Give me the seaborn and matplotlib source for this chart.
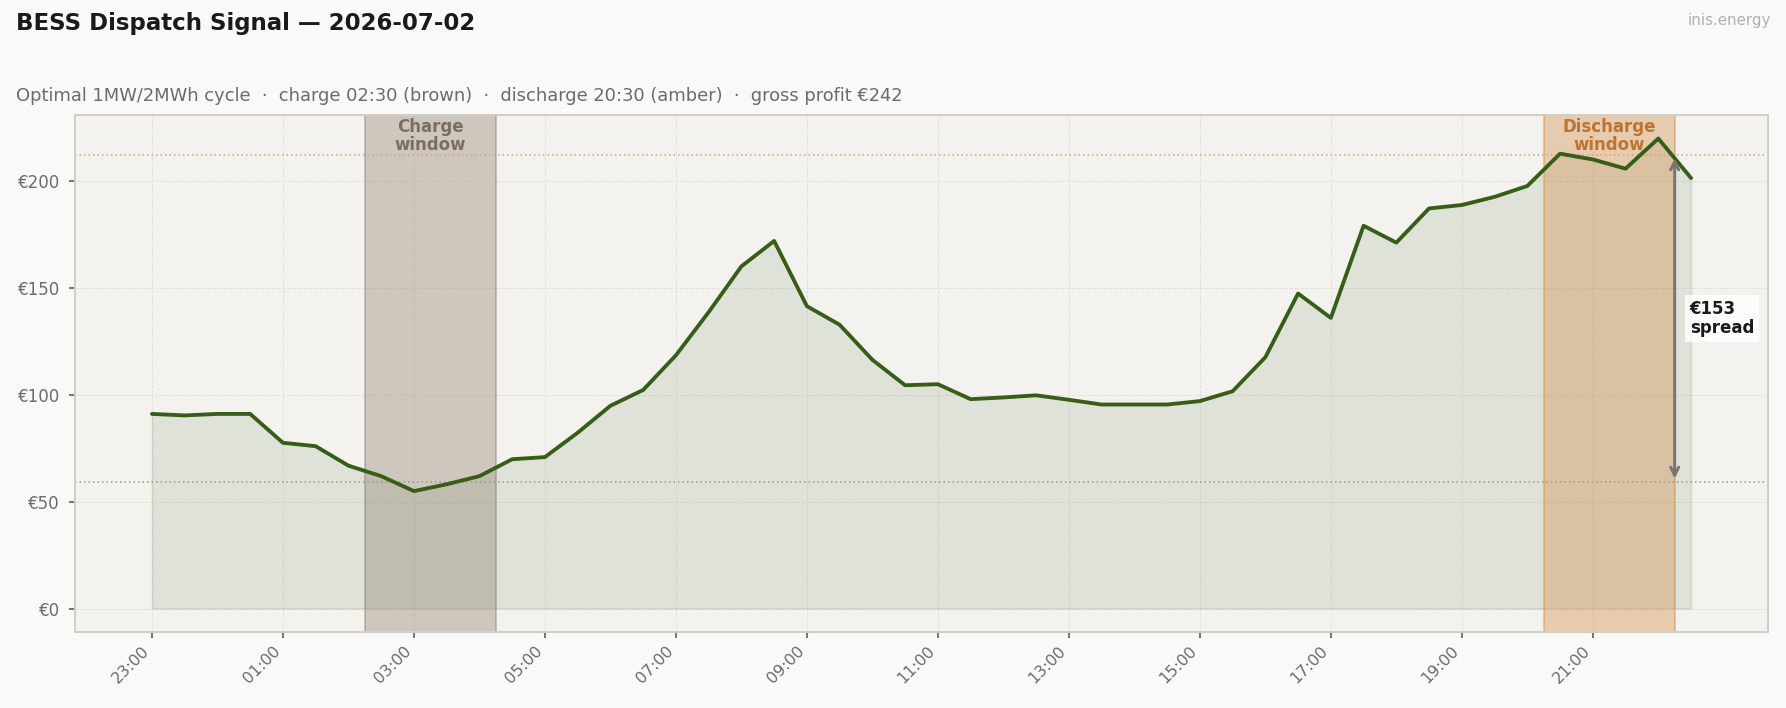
import numpy as np
import pandas as pd
import matplotlib
matplotlib.use("Agg")
import matplotlib.pyplot as plt
import seaborn as sns
from matplotlib.colors import to_rgba

# ---------------- data ----------------
prices = [91.0, 90.3, 91.0, 91.0, 77.5, 75.9, 66.8, 61.9, 54.9, 58.1, 61.9, 69.8,
          70.8, 82.2, 94.8, 102.2, 118.4, 138.6, 160.0, 171.9, 141.4, 132.7, 116.3, 104.4,
          104.9, 97.9, 98.7, 99.7, 97.6, 95.4, 95.4, 95.4, 97.0, 101.6, 117.5, 147.3,
          135.9, 179.0, 171.1, 187.1, 188.7, 192.5, 197.6, 212.7, 210.0, 205.7, 219.8, 201.3]
start_time = "2026-07-01 23:00"
charge_slots = ["02:30", "03:00", "03:30", "04:00"]
discharge_slots = ["20:30", "21:00", "21:30", "22:00"]
x_tick_labels = ["23:00", "01:00", "03:00", "05:00", "07:00", "09:00",
                 "11:00", "13:00", "15:00", "17:00", "19:00", "21:00"]
y_ticks = [0, 50, 100, 150, 200]

title = "BESS Dispatch Signal \u2014 2026-07-02"
subtitle = ("Optimal 1MW/2MWh cycle  \u00b7  charge 02:30 (brown)  \u00b7  "
            "discharge 20:30 (amber)  \u00b7  gross profit \u20ac242")
brand = "inis.energy"

# ---------------- styling ----------------
FIG_BG = "#f9f9f7"
AX_BG = "#f3f2ee"
GREEN = "#365e17"
BROWN = "#8b7b6b"
AMBER = "#cf8840"
GREY_TXT = "#6b6b6b"

sns.set_theme(style="whitegrid", rc={
    "figure.facecolor": FIG_BG,
    "axes.facecolor": AX_BG,
    "axes.edgecolor": "#d3cfc8",
    "axes.linewidth": 1.2,
    "grid.color": "#e2e0da",
    "grid.linestyle": "--",
    "grid.linewidth": 0.6,
    "xtick.color": "#7a7672",
    "ytick.color": "#7a7672",
    "xtick.labelcolor": GREY_TXT,
    "ytick.labelcolor": GREY_TXT,
    "xtick.bottom": True,
    "ytick.left": True,
    "xtick.major.size": 3.5,
    "ytick.major.size": 3.5,
    "ytick.major.pad": 5.5,
})
plt.rcParams["font.family"] = ["DejaVu Sans"]

times = pd.date_range(pd.Timestamp(start_time), periods=len(prices), freq="30min")
df = pd.DataFrame({"time": times, "price": prices})

fig = plt.figure(figsize=(1786 / 120, 708 / 120), dpi=120)
ax = fig.add_axes([75 / 1786, 1 - 632 / 708, (1768 - 75) / 1786, (632 - 115) / 708])

ax.fill_between(df["time"], 0, df["price"], color=GREEN, alpha=0.1, lw=1.0)
sns.lineplot(data=df, x="time", y="price", color=GREEN, lw=2.3, ax=ax)

half = pd.Timedelta(minutes=15)
lookup = {t.strftime("%H:%M"): t for t in times}
ch_t = [lookup[s] for s in charge_slots]
dc_t = [lookup[s] for s in discharge_slots]
ser = df.set_index("time")["price"]
ch_avg = ser.loc[ch_t].mean()
dc_avg = ser.loc[dc_t].mean()
spread = dc_avg - ch_avg

ax.axvspan(ch_t[0] - half, ch_t[-1] + half, facecolor=to_rgba(BROWN, 0.36),
           edgecolor=to_rgba(BROWN, 0.5), lw=1.0, zorder=1)
ax.axvspan(dc_t[0] - half, dc_t[-1] + half, facecolor=to_rgba(AMBER, 0.36),
           edgecolor=to_rgba(AMBER, 0.5), lw=1.0, zorder=1)

ax.axhline(ch_avg, color="#9c968e", ls=(0, (1, 2)), lw=0.9, zorder=1.5)
ax.axhline(dc_avg, color="#d9a070", ls=(0, (1, 2)), lw=0.9, zorder=1.5)

trans = ax.get_xaxis_transform()
ch_mid = ch_t[0] + (ch_t[-1] - ch_t[0]) / 2
dc_mid = dc_t[0] + (dc_t[-1] - dc_t[0]) / 2
ax.text(ch_mid, 0.995, "Charge\nwindow", transform=trans, ha="center", va="top",
        fontsize=10, fontweight="bold", color="#7a6e63", linespacing=1.0)
ax.text(dc_mid, 0.995, "Discharge\nwindow", transform=trans, ha="center", va="top",
        fontsize=10, fontweight="bold", color="#bf7330", linespacing=1.0)

arrow_x = dc_t[-1] + half
ax.annotate("", xy=(arrow_x, ch_avg), xytext=(arrow_x, dc_avg),
            arrowprops=dict(arrowstyle="<->", color="#7a7570", lw=1.8,
                            shrinkA=2, shrinkB=2), zorder=4)
ax.annotate(f"\u20ac{spread:.0f}\nspread", xy=(arrow_x, (ch_avg + dc_avg) / 2),
            xytext=(9, 0), textcoords="offset points", ha="left", va="center",
            fontsize=10, fontweight="bold", color="#1a1a1a", linespacing=1.05,
            bbox=dict(boxstyle="square,pad=0.3", fc="white", ec="none", alpha=0.8), zorder=5)

ax.set_yticks(y_ticks)
ax.set_yticklabels([f"\u20ac{v}" for v in y_ticks], fontsize=10)
ax.set_xticks([lookup[s] for s in x_tick_labels])
ax.set_xticklabels(x_tick_labels, rotation=45, ha="right", fontsize=9.5)
ax.set_xlabel("")
ax.set_ylabel("")
ax.grid(True, which="major", axis="both")
for sp in ax.spines.values():
    sp.set_visible(True)
    sp.set_color("#d3cfc8")

fig.text(16 / 1786, 1 - 12 / 708, title, ha="left", va="top", fontsize=13.7,
         fontweight="bold", color="#1a1a1a")
fig.text(16 / 1786, 1 - 96 / 708, subtitle, ha="left", va="center", fontsize=10.7,
         color=GREY_TXT)
fig.text(1771 / 1786, 1 - 21 / 708, brand, ha="right", va="center", fontsize=9,
         color="#b0b0b0")

fig.savefig("out.png", dpi=120, facecolor=FIG_BG)
